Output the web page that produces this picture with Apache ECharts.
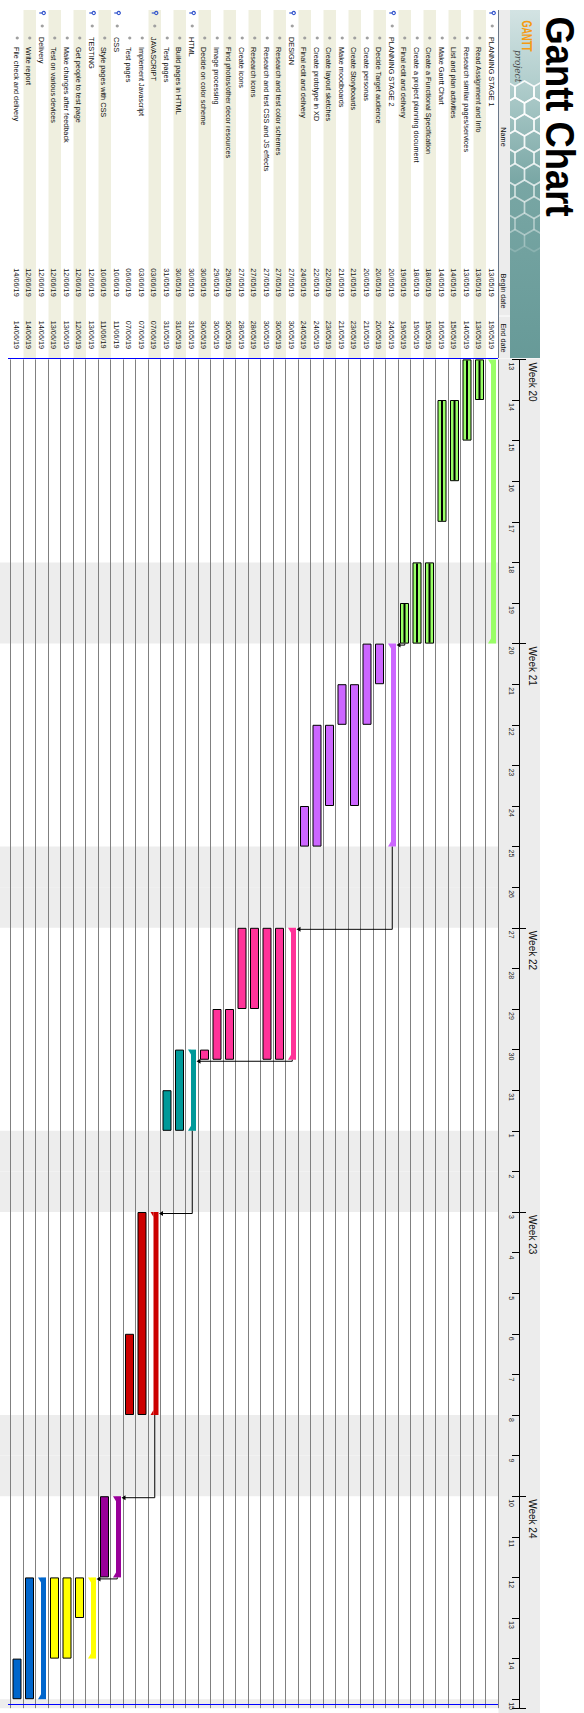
<!DOCTYPE html>
<html><head><meta charset="utf-8">
<script src="https://cdn.jsdelivr.net/npm/echarts/dist/echarts.min.js"></script>
<style>
html,body{margin:0;padding:0;width:584px;height:1713px;overflow:hidden;background:#fff;}
#main{position:absolute;left:0;top:0;width:1713px;height:584px;transform-origin:0 0;transform:translate(584px,0) rotate(90deg);}
</style></head><body><div id="main"></div>
<script>
// ---------------- data ----------------
const dayLabels = ['13','14','15','16','17','18','19','20','21','22','23','24','25','26','27','28','29','30','31',
  '1','2','3','4','5','6','7','8','9','10','11','12','13','14','15'];
const weekLabels = ['Week 20','Week 21','Week 22','Week 23','Week 24'];
const taskNames = [
  'PLANNING STAGE 1','Read Assignment and Info','Research similar pages/services','List and plan activities',
  'Make Gantt Chart','Create a Functional Specification','Create a project planning document','Final edit and delivery',
  'PLANNING STAGE 2','Decide Target audience','Create personas','Create Storyboards','Make moodboards',
  'Create layout sketches','Create prototype in XD','Final edit and delivery',
  'DESIGN','Research and test color schemes','Research and test CSS and JS effects','Research icons','Create icons',
  'Find photos/other decor resources','Image processing','Decide on color scheme',
  'HTML','Build pages in HTML','Test pages',
  'JAVASCRIPT','Implement Javascript','Test pages',
  'CSS','Style pages with CSS',
  'TESTING','Get people to test page','Make changes after feedback','Test on various devices',
  'Delivery','Write report','File check and delivery'];
const beginDates = ['13/05/19','13/05/19','13/05/19','14/05/19','14/05/19','18/05/19','18/05/19','19/05/19',
  '20/05/19','20/05/19','20/05/19','21/05/19','21/05/19','22/05/19','22/05/19','24/05/19',
  '27/05/19','27/05/19','27/05/19','27/05/19','27/05/19','29/05/19','29/05/19','30/05/19',
  '30/05/19','30/05/19','31/05/19','03/06/19','03/06/19','06/06/19','10/06/19','10/06/19',
  '12/06/19','12/06/19','12/06/19','12/06/19','12/06/19','12/06/19','14/06/19'];
const endDates = ['19/05/19','13/05/19','14/05/19','15/05/19','16/05/19','19/05/19','19/05/19','19/05/19',
  '24/05/19','20/05/19','21/05/19','23/05/19','21/05/19','23/05/19','24/05/19','24/05/19',
  '30/05/19','30/05/19','30/05/19','28/05/19','28/05/19','30/05/19','30/05/19','30/05/19',
  '31/05/19','31/05/19','31/05/19','07/06/19','07/06/19','07/06/19','11/06/19','11/06/19',
  '13/06/19','12/06/19','13/06/19','13/06/19','14/06/19','14/06/19','14/06/19'];
// bar extents on the timeline, in days from 13 May
const barStart = [0,0,0,1,1,5,5,6, 7,7,7,8,8,9,9,11, 14,14,14,14,14,16,16,17, 17,17,18, 21,21,24, 28,28, 30,30,30,30, 30,30,32];
const barEnd   = [7,1,2,3,4,7,7,7, 12,8,9,11,9,11,12,12, 17.25,17.25,17.25,16,16,17.25,17.25,17.25, 19,19,19, 26,26,26, 30,30, 32,31,32,32, 33,33,33];
const taskGroup = [0,0,0,0,0,0,0,0, 1,1,1,1,1,1,1,1, 2,2,2,2,2,2,2,2, 3,3,3, 4,4,4, 5,5, 6,6,6,6, 7,7,7];
const summaryRows = [0,8,16,24,27,30,32,36];
const groupColors = ['#99ff66','#cc66ff','#ff3399','#009999','#cc0000','#990099','#ffff00','#0066cc'];
const completedRows = [1,2,3,4,5,6,7];
const shadedRows = [1,3,5,7,9,11,13,15,17,19,21,23,25,27,31,33,35,37];
const weekendDays = [5,6,12,13,19,20,26,27,33];
const dependencies = [[7,8],[8,16],[16,24],[24,27],[27,30],[30,32]];

// ---------------- helpers ----------------
const rowIds = taskNames.map((n,i)=>i);
const taskData = rowIds.map(i=>[i, barStart[i], barEnd[i]]);
const depData = dependencies.map(d=>[d[0], d[1], barEnd[d[0]], barStart[d[1]]]);
const FONT = '"Liberation Sans", Arial, sans-serif';
const MAXD = 33.22;

function renderWeekend(params, api){
  const d = api.value(0);
  const a = api.coord([d,0]), b = api.coord([Math.min(d+1,MAXD),0]);
  const cs = params.coordSys;
  return {type:'rect', shape:{x:a[0], y:cs.y, width:b[0]-a[0], height:cs.height+11}, style:{fill:'#ededed'}};
}
function renderTask(params, api){
  const row = api.value(0), s = api.value(1), e = api.value(2);
  const a = api.coord([s,row]), b = api.coord([e,row]);
  const h = api.size([0,1])[1];
  const top = a[1]-h/2, x0 = a[0], w = b[0]-a[0];
  const color = groupColors[taskGroup[row]];
  const ch = [];
  if (summaryRows.indexOf(row) >= 0){
    ch.push({type:'rect', shape:{x:x0, y:top+2.5, width:w, height:5}, style:{fill:color}});
    ch.push({type:'polygon', shape:{points:[[x0,top+7.5],[x0,top+10.5],[x0+5,top+7.5]]}, style:{fill:color}});
    ch.push({type:'polygon', shape:{points:[[x0+w,top+7.5],[x0+w,top+10.5],[x0+w-5,top+7.5]]}, style:{fill:color}});
  } else {
    ch.push({type:'rect', shape:{x:x0+0.5, y:top+2.5, width:w-1, height:8}, style:{fill:color, stroke:'#000', lineWidth:1}});
    if (completedRows.indexOf(row) >= 0)
      ch.push({type:'rect', shape:{x:x0+1, y:top+5.5, width:w-2, height:2}, style:{fill:'#000'}});
  }
  return {type:'group', children:ch};
}
function renderDep(params, api){
  const f = api.value(0), t = api.value(1), fx = api.value(2), tx = api.value(3);
  const h = api.size([0,1])[1];
  const p = api.coord([fx,f]), q = api.coord([tx,t]);
  const x1 = Math.max(p[0], q[0])+1.5, yTip = q[1]-h/2+2;
  return {type:'group', children:[
    {type:'polyline', shape:{points:[[p[0],p[1]],[x1,p[1]],[x1,yTip-3]]}, style:{stroke:'#000', lineWidth:1, fill:null}},
    {type:'polygon', shape:{points:[[x1-2.5,yTip-4],[x1+2.5,yTip-4],[x1,yTip]]}, style:{fill:'#000'}}
  ]};
}
function renderRow(params, api){
  const i = api.value(0);
  const c = api.coord([0,i]);
  const h = api.size([0,1])[1];
  const cs = params.coordSys;
  const top = c[1]-h/2, cy = c[1]+0.8;
  const isSum = summaryRows.indexOf(i) >= 0;
  const ch = [];
  if (shadedRows.indexOf(i) >= 0)
    ch.push({type:'rect', shape:{x:cs.x, y:top, width:cs.width, height:h}, style:{fill:'#efefdf'}, z2:0});
  if (isSum){
    const ix = api.coord([3,i])[0];
    ch.push({type:'circle', shape:{cx:ix, cy:c[1]-1.5, r:1.6}, style:{fill:'none', stroke:'#3355cc', lineWidth:1.2}, z2:1});
    ch.push({type:'line', shape:{x1:ix, y1:c[1]+0.2, x2:ix, y2:c[1]+3}, style:{stroke:'#3355cc', lineWidth:1.2}, z2:1});
  }
  const bx = api.coord([isSum?16:28, i])[0];
  ch.push({type:'circle', shape:{cx:bx, cy:c[1], r:1.6}, style:{fill:'#a0a0a0'}, z2:1});
  const nx = api.coord([isSum?27:37, i])[0];
  ch.push({type:'text', x:nx, y:cy, style:{text:taskNames[i], fill:'#111', font:'7.3px '+FONT, align:'left', verticalAlign:'middle'}, z2:2});
  ch.push({type:'text', x:api.coord([258.3,i])[0], y:cy, style:{text:beginDates[i], fill:'#111', font:'7.3px '+FONT, align:'left', verticalAlign:'middle'}, z2:2});
  ch.push({type:'text', x:api.coord([310.7,i])[0], y:cy, style:{text:endDates[i], fill:'#111', font:'7.3px '+FONT, align:'left', verticalAlign:'middle'}, z2:2});
  return {type:'group', children:ch};
}

// decorative honeycomb in the header banner
function hexagon(cx, cy, r, op){
  const pts = [];
  for (let k=0;k<6;k++){const a=Math.PI/3*k; pts.push([cx+r*Math.cos(a), cy+r*Math.sin(a)]);}
  return {type:'polygon', shape:{points:pts}, style:{fill:'none', stroke:'rgba(255,255,255,'+op+')', lineWidth:1.6}, z:-6};
}
const hexes = [];
for (let c=0;c<10;c++){
  const cx = 92 + c*16.5;
  const op = Math.max(0.15, 0.9 - c*0.08);
  const ys = (c%2===0) ? [40.5, 59.5, 78.5] : [50, 69];
  ys.forEach(y=>hexes.push(hexagon(cx, y, 11, op)));
}

const chart = echarts.init(document.getElementById('main'), null, {renderer:'svg', width:1713, height:584});
chart.setOption({
  animation:false,
  backgroundColor:'#fff',
  grid:[
    {left:359.4, top:85.5, width:1353.6, height:487.5, show:false},
    {left:10, top:85.5, width:348, height:487.5, show:false}
  ],
  xAxis:[
    {gridIndex:0, type:'value', min:0, max:MAXD, interval:1, position:'top', offset:21.5,
      axisLine:{show:true, lineStyle:{color:'#000', width:1}},
      axisTick:{show:true, inside:true, length:8, lineStyle:{color:'#000', width:1}},
      axisLabel:{show:true, inside:true, interval:0, margin:5, fontSize:7, fontFamily:'Liberation Sans', color:'#222', align:'left', padding:[0,0,0,3],
        showMinLabel:true, showMaxLabel:true, formatter:v=>dayLabels[v]||''},
      splitLine:{show:false}},
    {gridIndex:0, type:'value', min:0, max:MAXD, interval:7, position:'top', offset:21.5,
      axisLine:{show:false},
      axisTick:{show:true, inside:false, length:6, lineStyle:{color:'#000', width:1}},
      axisLabel:{show:true, interval:0, margin:7, fontSize:10, fontFamily:'Liberation Sans', color:'#111', align:'left', padding:[0,0,0,3],
        formatter:v=>weekLabels[v/7]||''},
      splitLine:{show:false}},
    {gridIndex:1, type:'value', min:0, max:348, show:false}
  ],
  yAxis:[
    {gridIndex:0, type:'category', data:rowIds, inverse:true,
      axisLine:{show:false}, axisTick:{show:false}, axisLabel:{show:false},
      splitLine:{show:true, interval:0, lineStyle:{color:'#808080', width:1}}},
    {gridIndex:1, type:'category', data:rowIds, inverse:true, show:false}
  ],
  graphic:[
    {type:'text', x:16.5, y:23.4, scaleX:0.887, z:10, style:{text:'Gantt Chart', fill:'#000', font:'bold 41px '+FONT, align:'left', verticalAlign:'middle'}},
    {type:'rect', z:-10, shape:{x:10, y:44, width:348, height:30}, style:{fill:new echarts.graphic.LinearGradient(0,0,1,0,[
      {offset:0, color:'#d3e3e3'},{offset:0.2, color:'#b3cfce'},{offset:0.5, color:'#78a6a4'},{offset:1, color:'#679a98'}])}},
    ...hexes,
    {type:'rect', z:-8, shape:{x:0, y:0, width:358, height:44}, style:{fill:'#fff'}},
    {type:'text', x:20.5, y:57, scaleX:0.6, z:10, style:{text:'GANTT', fill:'#f59b14', font:'bold 15px '+FONT, align:'left', verticalAlign:'middle'}},
    {type:'text', x:50, y:66, z:10, style:{text:'project', fill:'#4a4a4a', font:'italic 9px "DejaVu Serif", serif', align:'left', verticalAlign:'middle'}},
    {type:'rect', z:-4, shape:{x:10, y:74, width:348, height:11.5}, style:{fill:'#ececec'}},
    {type:'line', z:-3, shape:{x1:316, y1:74, x2:316, y2:85.5}, style:{stroke:'#ffffff', lineWidth:1}},
    {type:'text', x:137, y:80.3, z:10, style:{text:'Name', fill:'#111', font:'7.3px '+FONT, align:'center', verticalAlign:'middle'}},
    {type:'text', x:291, y:80.3, z:10, style:{text:'Begin date', fill:'#111', font:'7.3px '+FONT, align:'center', verticalAlign:'middle'}},
    {type:'text', x:338, y:80.3, z:10, style:{text:'End date', fill:'#111', font:'7.3px '+FONT, align:'center', verticalAlign:'middle'}},
    {type:'line', z:5, shape:{x1:10, y1:85.5, x2:358, y2:85.5}, style:{stroke:'#6a7788', lineWidth:1}},
    {type:'rect', z:-10, shape:{x:358.5, y:44, width:1360, height:41.5}, style:{fill:'#ececec'}},
    {type:'line', z:5, shape:{x1:358.5, y1:86, x2:358.5, y2:576}, style:{stroke:'#0000ff', lineWidth:1}},
    {type:'line', z:5, shape:{x1:1704.5, y1:86, x2:1704.5, y2:576}, style:{stroke:'#0000ff', lineWidth:1}}
  ],
  series:[
    {type:'custom', name:'weekends', xAxisIndex:0, yAxisIndex:0, z:-1, renderItem:renderWeekend, data:weekendDays.map(d=>[d]), silent:true},
    {type:'custom', name:'tasks', xAxisIndex:0, yAxisIndex:0, z:3, renderItem:renderTask, data:taskData, encode:{x:[1,2], y:0}},
    {type:'custom', name:'dependencies', xAxisIndex:0, yAxisIndex:0, z:4, renderItem:renderDep, data:depData},
    {type:'custom', name:'table', xAxisIndex:2, yAxisIndex:1, z:2, renderItem:renderRow, data:rowIds.map(i=>[i])}
  ]
});
</script></body></html>
